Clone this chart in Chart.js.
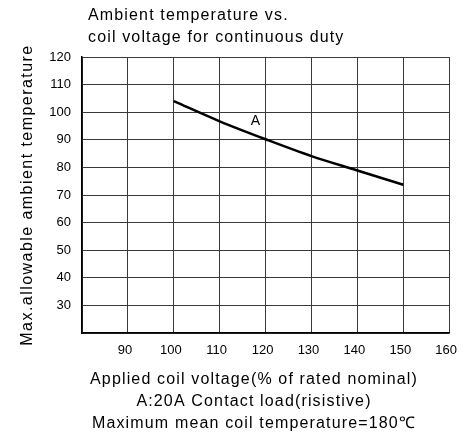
<!DOCTYPE html>
<html>
<head>
<meta charset="utf-8">
<script src="https://cdn.jsdelivr.net/npm/chart.js@4/dist/chart.umd.min.js"></script>
<style>
html,body{margin:0;padding:0;background:#fff;}
#wrap{width:470px;height:439px;position:relative;}
</style>
</head>
<body>
<div id="wrap"><canvas id="c" width="470" height="439"></canvas></div>
<script>
const voltages = [100, 110, 120, 130, 140, 150];
const tempA = [104, 96.7, 90.2, 84.1, 78.9, 73.7];
const curveLabel = 'A';
const curveLabelAt = [117.8, 96.6];
const titleLines = ['Ambient temperature vs.', 'coil voltage for continuous duty'];
const xTitleLines = ['Applied coil voltage(% of rated nominal)', 'A:20A Contact load(risistive)', 'Maximum mean coil temperature=180\u2103'];
const yTitle = 'Max.allowable ambient temperature';
const xRange = [80, 160];
const yRange = [20, 120];

const FONT = '"Liberation Sans", Arial, sans-serif';

const textPlugin = {
  id: 'texts',
  afterDraw(chart) {
    const ctx = chart.ctx;
    const xs = chart.scales.x, ys = chart.scales.y;
    const area = chart.chartArea;
    ctx.save();
    ctx.fillStyle = '#000';
    ctx.font = '16px ' + FONT;
    ctx.letterSpacing = '1.15px';
    ctx.textBaseline = 'alphabetic';
    ctx.textAlign = 'left';
    ctx.fillText(titleLines[0], 88, 19.5);
    ctx.fillText(titleLines[1], 88, 41.5);
    ctx.textAlign = 'center';
    ctx.fillText(xTitleLines[0], 254, 383.5);
    ctx.fillText(xTitleLines[1], 254, 405.5);
    ctx.fillText(xTitleLines[2], 254, 427.5);
    // y axis title
    ctx.save();
    ctx.letterSpacing = '1.45px';
    ctx.translate(32, (area.top + area.bottom) / 2);
    ctx.rotate(-Math.PI / 2);
    ctx.fillText(yTitle, 0, 0);
    ctx.restore();
    ctx.letterSpacing = '0px';
    ctx.font = '14px ' + FONT;
    ctx.textBaseline = 'middle';
    ctx.fillText(curveLabel, xs.getPixelForValue(curveLabelAt[0]), ys.getPixelForValue(curveLabelAt[1]));
    ctx.restore();
  }
};

new Chart(document.getElementById('c'), {
  type: 'line',
  data: {
    datasets: [{
      data: voltages.map((v, i) => ({x: v, y: tempA[i]})),
      borderColor: '#000',
      borderWidth: 2.5,
      pointRadius: 0,
      cubicInterpolationMode: 'monotone',
      fill: false
    }]
  },
  options: {
    responsive: false,
    animation: false,
    devicePixelRatio: 1,
    layout: {padding: {left: 0, right: 12, top: 57, bottom: 0}},
    plugins: {legend: {display: false}, tooltip: {enabled: false}, title: {display: false}},
    scales: {
      x: {
        type: 'linear', min: xRange[0], max: xRange[1],
        afterFit(s) { s.height = 106; },
        ticks: {stepSize: 10, color: '#000', font: {size: 13, family: FONT}, padding: 10, labelOffset: -3,
          callback: v => v === xRange[0] ? '' : v, maxRotation: 0, autoSkip: false},
        grid: {color: '#3a3a3a', lineWidth: 1, drawTicks: false},
        border: {color: '#000', width: 1.5}
      },
      y: {
        min: yRange[0], max: yRange[1],
        afterFit(s) { s.width = 82; },
        ticks: {stepSize: 10, color: '#000', font: {size: 13, family: FONT}, padding: 11,
          callback: v => v === yRange[0] ? '' : v},
        grid: {color: '#3a3a3a', lineWidth: 1, drawTicks: false},
        border: {color: '#000', width: 1.5}
      }
    }
  },
  plugins: [textPlugin]
});
</script>
</body>
</html>
